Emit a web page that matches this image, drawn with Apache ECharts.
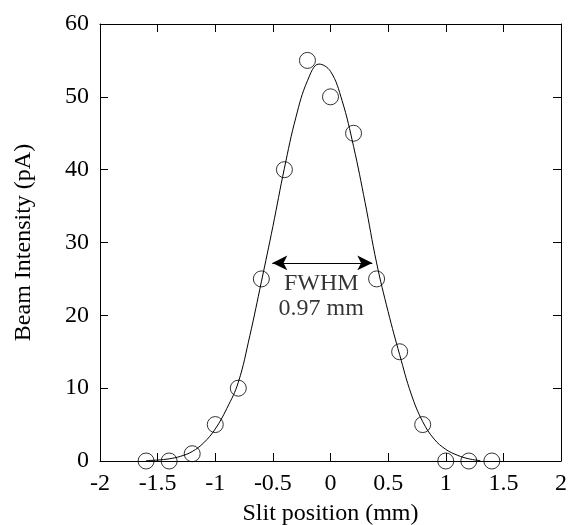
<!DOCTYPE html>
<html>
<head>
<meta charset="utf-8">
<script src="https://cdn.jsdelivr.net/npm/echarts@6/dist/echarts.min.js"></script>
<style>html,body{margin:0;padding:0;background:#fff;}#c{width:568px;height:525px;}</style>
</head>
<body>
<div id="c"></div>
<script>
// Measured points
var slitPos = [-1.6, -1.4, -1.2, -1.0, -0.8, -0.6, -0.4, -0.2, 0.0, 0.2, 0.4, 0.6, 0.8, 1.0, 1.2, 1.4];
var intensity = [0, 0, 1, 5, 10, 25, 40, 55, 50, 45, 25, 15, 5, 0, 0, 0];
// Fit curve
var fitX = [-1.6, -1.5, -1.4, -1.3, -1.2, -1.1, -1.0, -0.9, -0.8, -0.7, -0.6, -0.5, -0.4, -0.3, -0.2, -0.1, 0.0, 0.1, 0.2, 0.3, 0.4, 0.5, 0.6, 0.7, 0.8, 0.9, 1.0, 1.1, 1.2, 1.3];
var fitY = [0.06, 0.13, 0.3, 0.65, 1.3, 2.5, 4.4, 7.2, 10.8, 17.2, 24.6, 32.2, 40.2, 47.2, 52.2, 54.5, 53.5, 49.5, 43.2, 35.5, 27.2, 20.5, 14.6, 9.2, 5.4, 3.0, 1.6, 0.8, 0.3, 0.05];
// FWHM annotation
var fwhmLeft = -0.505, fwhmRight = 0.363, halfMax = 27.2;
var fwhmLabelPos = [-0.08, 22.6];
var fwhmText = ['FWHM', '0.97 mm'];
var xTicks = {min: -2, max: 2, interval: 0.5};
var yTicks = {min: 0, max: 60, interval: 10};

var font = 'Liberation Serif';
var axisCommon = {
  axisLine: {show: true, onZero: false, lineStyle: {color: '#000', width: 1}},
  axisTick: {show: true, inside: true, length: 8, lineStyle: {color: '#000', width: 1}},
  splitLine: {show: false}
};
function mk(base, extra) { return Object.assign({}, axisCommon, base, extra); }

var chart = echarts.init(document.getElementById('c'));
chart.setOption({
  animation: false,
  backgroundColor: '#fff',
  grid: {left: 100, right: 7, top: 24, bottom: 64, containLabel: false, outerBoundsMode: 'none'},
  xAxis: [
    mk({type: 'value', min: xTicks.min, max: xTicks.max, interval: xTicks.interval}, {
      position: 'bottom',
      name: 'Slit position (mm)', nameLocation: 'middle', nameGap: 41,
      nameTextStyle: {fontFamily: font, fontSize: 24, color: '#000'},
      axisLabel: {fontFamily: font, fontSize: 24, color: '#000', margin: 11}
    }),
    mk({type: 'value', min: xTicks.min, max: xTicks.max, interval: xTicks.interval}, {
      position: 'top', axisLabel: {show: false}
    })
  ],
  yAxis: [
    mk({type: 'value', min: yTicks.min, max: yTicks.max, interval: yTicks.interval}, {
      position: 'left',
      name: 'Beam Intensity (pA)', nameLocation: 'middle', nameGap: 64,
      nameTextStyle: {fontFamily: font, fontSize: 24, color: '#000'},
      axisLabel: {fontFamily: font, fontSize: 24, color: '#000', margin: 11}
    }),
    mk({type: 'value', min: yTicks.min, max: yTicks.max, interval: yTicks.interval}, {
      position: 'right', axisLabel: {show: false}
    })
  ],
  series: [
    {
      type: 'line', name: 'fit',
      data: fitX.map(function (x, i) { return [x, fitY[i]]; }),
      smooth: 0.4, showSymbol: false, symbol: 'none',
      lineStyle: {color: '#000', width: 1},
      z: 2,
      markLine: {
        silent: true,
        symbol: ['arrow', 'arrow'], symbolSize: [11, 15],
        lineStyle: {color: '#000', width: 1, type: 'solid'},
        label: {show: false},
        data: [[{coord: [fwhmLeft, halfMax]}, {coord: [fwhmRight, halfMax]}]]
      }
    },
    {
      type: 'scatter', name: 'data',
      data: slitPos.map(function (x, i) { return [x, intensity[i]]; }),
      symbol: 'circle', symbolSize: 16,
      itemStyle: {color: 'rgba(0,0,0,0)', borderColor: '#000', borderWidth: 1},
      clip: false, z: 3
    },
    {
      type: 'scatter', name: 'annot',
      data: [fwhmLabelPos], symbolSize: 0, silent: true,
      label: {
        show: true, position: 'inside',
        formatter: fwhmText.join('\n'),
        fontFamily: font, fontSize: 24, lineHeight: 25, color: '#000',
        textBorderWidth: 0, align: 'center', verticalAlign: 'middle'
      }
    }
  ]
});
</script>
</body>
</html>
